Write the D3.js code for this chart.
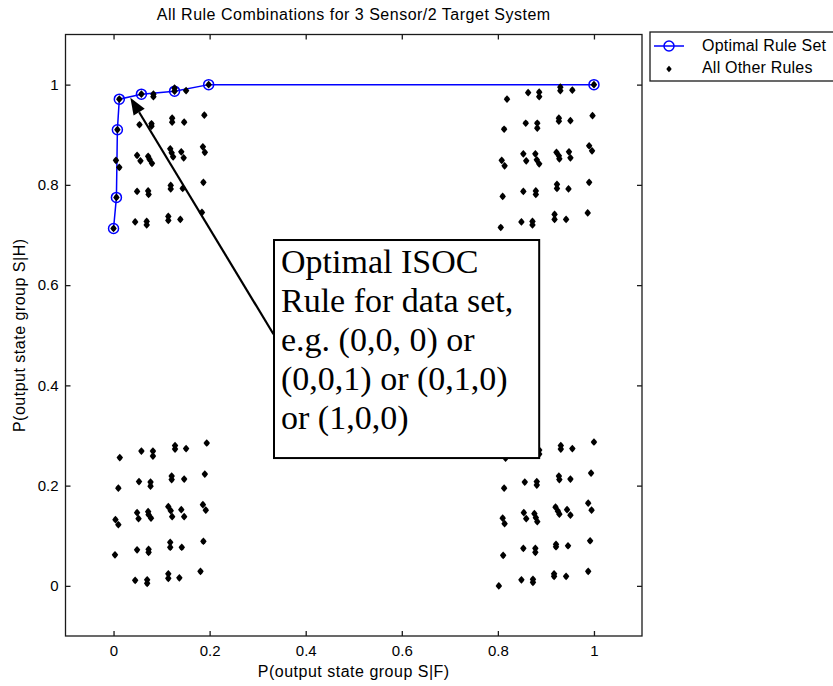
<!DOCTYPE html>
<html>
<head>
<meta charset="utf-8">
<script src="https://cdn.jsdelivr.net/npm/d3@7"></script>
<style>
  html, body { margin: 0; padding: 0; background: #fff; }
  svg { display: block; }
</style>
</head>
<body>
<svg id="chart" width="833" height="686"></svg>
<script>
// ---- data ----
const titleText = "All Rule Combinations for 3 Sensor/2 Target System";
const xLabelText = "P(output state group S|F)";
const yLabelText = "P(output state group S|H)";
const xTicks = [0, 0.2, 0.4, 0.6, 0.8, 1];
const yTicks = [0, 0.2, 0.4, 0.6, 0.8, 1];
const legendLabels = ["Optimal Rule Set", "All Other Rules"];

// optimal rule set (ISOC curve)
const optimalSF = [0.000, 0.006, 0.008, 0.012, 0.058, 0.127, 0.198, 1.000];
const optimalSH = [0.713, 0.775, 0.910, 0.971, 0.981, 0.987, 1.000, 1.000];

// all other rules, by cluster, [P(S|F), P(S|H)]
const topLeftRules = [
  [0.012,0.971],[0.058,0.981],[0.083,0.976],[0.083,0.981],[0.127,0.987],[0.127,0.993],[0.151,0.988],[0.198,1.000],
  [0.008,0.910],[0.054,0.920],[0.079,0.922],[0.079,0.917],[0.122,0.933],[0.122,0.925],[0.147,0.925],[0.189,0.939],
  [0.005,0.849],[0.012,0.835],[0.049,0.859],[0.056,0.848],[0.072,0.857],[0.075,0.851],[0.080,0.843],[0.118,0.872],
  [0.121,0.864],[0.124,0.856],[0.141,0.866],[0.146,0.854],[0.186,0.876],[0.190,0.865],
  [0.006,0.775],[0.049,0.787],[0.072,0.788],[0.073,0.781],[0.119,0.799],[0.119,0.792],[0.144,0.793],[0.187,0.805],
  [0.000,0.713],[0.045,0.726],[0.069,0.727],[0.069,0.720],[0.114,0.737],[0.114,0.729],[0.139,0.731],[0.184,0.745]
];
const topRightRules = [
  [0.819,0.971],[0.863,0.984],[0.886,0.985],[0.886,0.976],[0.930,0.995],[0.930,0.988],[0.955,0.989],[1.000,1.000],
  [0.813,0.911],[0.858,0.923],[0.882,0.923],[0.882,0.913],[0.927,0.933],[0.927,0.927],[0.951,0.928],[0.997,0.938],
  [0.808,0.849],[0.814,0.838],[0.853,0.862],[0.859,0.848],[0.878,0.862],[0.881,0.850],[0.886,0.842],[0.922,0.865],
  [0.927,0.858],[0.928,0.852],[0.948,0.866],[0.951,0.854],[0.990,0.878],[0.996,0.868],
  [0.810,0.777],[0.853,0.787],[0.879,0.788],[0.879,0.781],[0.923,0.801],[0.923,0.793],[0.947,0.792],[0.990,0.805],
  [0.806,0.715],[0.849,0.726],[0.872,0.727],[0.872,0.720],[0.918,0.741],[0.918,0.731],[0.942,0.731],[0.987,0.744]
];
const bottomLeftRules = [
  [0.181,0.029],[0.137,0.016],[0.114,0.015],[0.114,0.024],[0.070,0.005],[0.070,0.012],[0.045,0.011],
  [0.187,0.089],[0.142,0.077],[0.118,0.077],[0.118,0.087],[0.073,0.067],[0.073,0.073],[0.049,0.072],[0.003,0.062],
  [0.192,0.151],[0.186,0.162],[0.147,0.138],[0.141,0.152],[0.122,0.138],[0.119,0.150],[0.114,0.158],[0.078,0.135],
  [0.073,0.142],[0.072,0.148],[0.052,0.134],[0.049,0.146],[0.010,0.122],[0.004,0.132],
  [0.190,0.223],[0.147,0.213],[0.121,0.212],[0.121,0.219],[0.077,0.199],[0.077,0.207],[0.053,0.208],[0.010,0.195],
  [0.194,0.285],[0.151,0.274],[0.128,0.273],[0.128,0.280],[0.082,0.259],[0.082,0.269],[0.058,0.269],[0.013,0.256]
];
const bottomRightRules = [
  [0.988,0.029],[0.942,0.019],[0.917,0.024],[0.917,0.019],[0.873,0.013],[0.873,0.007],[0.849,0.012],[0.802,0.000],
  [0.992,0.090],[0.946,0.080],[0.921,0.078],[0.921,0.083],[0.878,0.067],[0.878,0.075],[0.853,0.075],[0.811,0.061],
  [0.995,0.151],[0.988,0.165],[0.951,0.141],[0.944,0.152],[0.928,0.143],[0.925,0.149],[0.920,0.157],[0.882,0.128],
  [0.879,0.136],[0.876,0.144],[0.859,0.134],[0.854,0.146],[0.814,0.124],[0.810,0.135],
  [0.994,0.225],[0.951,0.213],[0.928,0.212],[0.927,0.219],[0.881,0.201],[0.881,0.208],[0.856,0.207],[0.813,0.195],
  [1.000,0.287],[0.955,0.274],[0.931,0.273],[0.931,0.280],[0.886,0.263],[0.886,0.271],[0.861,0.269],[0.816,0.255]
];

// annotation (data coordinates)
const noteLines = ["Optimal ISOC", "Rule for data set,", "e.g. (0,0, 0) or", "(0,0,1) or (0,1,0)", "or (1,0,0)"];
const noteBox = { x0: 0.334, x1: 0.886, y0: 0.690, y1: 0.255 };
const arrowFrom = [0.333, 0.502];
const arrowTo = [0.035, 0.974];

// ---- drawing ----
const SANS = "'Liberation Sans', Arial, Helvetica, sans-serif";
const SERIF = "'Liberation Serif', 'Times New Roman', serif";
const svg = d3.select("#chart");
const plot = { left: 65.5, right: 642, top: 34.5, bottom: 636 };
const x = d3.scaleLinear().domain([-0.1, 1.1]).range([plot.left, plot.right]);
const y = d3.scaleLinear().domain([-0.1, 1.1]).range([plot.bottom, plot.top]);
const axisColor = "#1a1a1a";
const fmt = d3.format("~g");

// frame
svg.append("rect")
  .attr("x", plot.left).attr("y", plot.top)
  .attr("width", plot.right - plot.left).attr("height", plot.bottom - plot.top)
  .attr("fill", "#fff").attr("stroke", axisColor).attr("stroke-width", 1.3);

function styleAxis(g, showText) {
  g.select(".domain").remove();
  g.selectAll(".tick line").attr("stroke", axisColor).attr("stroke-width", 1.3);
  g.selectAll(".tick text").attr("fill", "#000").attr("font-size", 15)
    .style("font-family", SANS);
  if (!showText) g.selectAll(".tick text").remove();
}
svg.append("g").attr("transform", `translate(0,${plot.bottom})`)
  .call(d3.axisBottom(x).tickValues(xTicks).tickFormat(fmt).tickSizeInner(-5).tickSizeOuter(0).tickPadding(9))
  .call(g => styleAxis(g, true));
svg.append("g").attr("transform", `translate(0,${plot.top})`)
  .call(d3.axisTop(x).tickValues(xTicks).tickSizeInner(-5).tickSizeOuter(0))
  .call(g => styleAxis(g, false));
svg.append("g").attr("transform", `translate(${plot.left},0)`)
  .call(d3.axisLeft(y).tickValues(yTicks).tickFormat(fmt).tickSizeInner(-5).tickSizeOuter(0).tickPadding(7))
  .call(g => styleAxis(g, true));
svg.append("g").attr("transform", `translate(${plot.right},0)`)
  .call(d3.axisRight(y).tickValues(yTicks).tickSizeInner(-5).tickSizeOuter(0))
  .call(g => styleAxis(g, false));

// title and labels
function sansText(sel, spacing) {
  return sel.style("font-family", SANS).attr("font-size", 16)
    .style("letter-spacing", (spacing == null ? 0.5 : spacing) + "px").attr("fill", "#000");
}
svg.append("text").attr("x", (plot.left + plot.right) / 2).attr("y", 20)
  .attr("text-anchor", "middle").call(sansText).text(titleText);
svg.append("text").attr("x", (plot.left + plot.right) / 2).attr("y", 677)
  .attr("text-anchor", "middle").call(sansText).text(xLabelText);
svg.append("text").attr("transform", `translate(25,${(plot.top + plot.bottom) / 2}) rotate(-90)`)
  .attr("text-anchor", "middle").call(sansText).text(yLabelText);

// optimal line + circles
const optimal = optimalSF.map((v, i) => [v, optimalSH[i]]);
svg.append("path").datum(optimal)
  .attr("d", d3.line().x(d => x(d[0])).y(d => y(d[1])))
  .attr("fill", "none").attr("stroke", "#0000ff").attr("stroke-width", 1.5);
svg.append("g").selectAll("circle").data(optimal).join("circle")
  .attr("cx", d => x(d[0])).attr("cy", d => y(d[1])).attr("r", 5)
  .attr("fill", "none").attr("stroke", "#0000ff").attr("stroke-width", 1.5);

// all other rules
const allRules = [].concat(topLeftRules, topRightRules, bottomLeftRules, bottomRightRules);
const dotShape = {
  draw(ctx, size) {
    const s = Math.sqrt(size);
    const w = s * 0.72, h = s * 0.86, m = s * 0.42;
    ctx.moveTo(0, -h); ctx.lineTo(m, -m); ctx.lineTo(w, 0); ctx.lineTo(m, m);
    ctx.lineTo(0, h); ctx.lineTo(-m, m); ctx.lineTo(-w, 0); ctx.lineTo(-m, -m); ctx.closePath();
  }
};
const marker = d3.symbol().type(dotShape).size(20);
svg.append("g").selectAll("path").data(allRules).join("path")
  .attr("transform", d => `translate(${x(d[0])},${y(d[1])})`)
  .attr("d", marker).attr("fill", "#000");

// annotation box
const bx0 = x(noteBox.x0), bx1 = x(noteBox.x1), by0 = y(noteBox.y0), by1 = y(noteBox.y1);
svg.append("rect").attr("x", bx0).attr("y", by0).attr("width", bx1 - bx0).attr("height", by1 - by0)
  .attr("fill", "#fff").attr("stroke", "#000").attr("stroke-width", 2);
svg.append("g").selectAll("text").data(noteLines).join("text")
  .attr("x", bx0 + 7).attr("y", (d, i) => by0 + 33 + i * 39)
  .style("font-family", SERIF)
  .attr("font-size", 34).attr("fill", "#000").text(d => d);

// arrow
const ax0 = x(arrowFrom[0]), ay0 = y(arrowFrom[1]), ax1 = x(arrowTo[0]), ay1 = y(arrowTo[1]);
const ang = Math.atan2(ay1 - ay0, ax1 - ax0);
const headLen = 17, headHalf = 6.5;
const bxh = ax1 - headLen * Math.cos(ang), byh = ay1 - headLen * Math.sin(ang);
svg.append("line").attr("x1", ax0).attr("y1", ay0).attr("x2", bxh).attr("y2", byh)
  .attr("stroke", "#000").attr("stroke-width", 2.2);
svg.append("path")
  .attr("d", `M${ax1},${ay1}L${bxh + headHalf * Math.sin(ang)},${byh - headHalf * Math.cos(ang)}L${bxh - headHalf * Math.sin(ang)},${byh + headHalf * Math.cos(ang)}Z`)
  .attr("fill", "#000");

// legend
const lg = svg.append("g");
lg.append("rect").attr("x", 650).attr("y", 32).attr("width", 190).attr("height", 49)
  .attr("fill", "#fff").attr("stroke", axisColor).attr("stroke-width", 1.3);
lg.append("line").attr("x1", 654).attr("x2", 684).attr("y1", 46).attr("y2", 46)
  .attr("stroke", "#0000ff").attr("stroke-width", 1.5);
lg.append("circle").attr("cx", 669).attr("cy", 46).attr("r", 5)
  .attr("fill", "none").attr("stroke", "#0000ff").attr("stroke-width", 1.5);
lg.append("path").attr("transform", "translate(669,69)").attr("d", d3.symbol().type(dotShape).size(14)).attr("fill", "#000");
lg.selectAll("text.lbl").data(legendLabels).join("text").attr("class", "lbl")
  .attr("x", 702).attr("y", (d, i) => 51 + i * 22).call(sansText, 0.2).text(d => d);
</script>
</body>
</html>
